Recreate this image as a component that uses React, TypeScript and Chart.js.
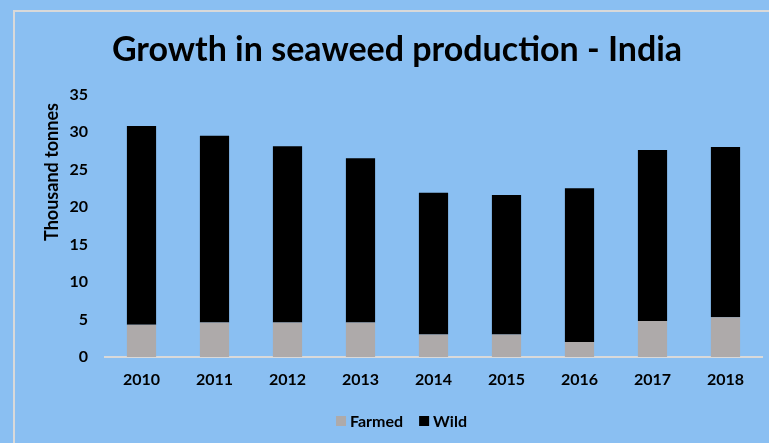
import React, { useEffect, useRef } from 'react';
import { Chart, registerables } from 'chart.js';

Chart.register(...registerables);

const years = ['2010', '2011', '2012', '2013', '2014', '2015', '2016', '2017', '2018'];
const farmed = [4.3, 4.6, 4.6, 4.6, 3.0, 3.0, 2.0, 4.8, 5.3];
const wild = [26.5, 24.9, 23.5, 21.9, 18.9, 18.6, 20.5, 22.8, 22.7];
const yMin = 0;
const yMax = 35;
const yStep = 5;
const chartTitle = 'Growth in seaweed production - India';
const yAxisTitle = 'Thousand tonnes';
const seriesNames = ['Farmed', 'Wild'];
const seriesColors = ['#aeaaaa', '#000000'];

const FONT = 'Lato, "Open Sans", "Noto Sans", sans-serif';
const BG = '#8abff2';

const overlayPlugin = {
  id: 'overlay',
  afterDraw(chart: any) {
    const { ctx, chartArea } = chart;
    // y-axis title
    ctx.save();
    ctx.font = `bold 18px ${FONT}`;
    ctx.fillStyle = '#000';
    ctx.translate(chartArea.left - 52.5, chartArea.top + 77.5);
    ctx.rotate(-Math.PI / 2);
    ctx.textAlign = 'center';
    ctx.textBaseline = 'middle';
    ctx.fillText(yAxisTitle, 0, 0);
    ctx.restore();

    // legend
    ctx.save();
    ctx.font = `bold 16px ${FONT}`;
    ctx.textBaseline = 'middle';
    ctx.textAlign = 'left';
    const cy = chartArea.bottom + 64;
    const box = 10;
    const gap = 4;
    const itemGap = 16;
    const items = chart.data.datasets.map((d: any) => ({
      label: d.label as string,
      color: d.backgroundColor as string,
      w: ctx.measureText(d.label).width,
    }));
    const total = items.reduce((s: number, it: any) => s + box + gap + it.w, 0) + itemGap * (items.length - 1);
    let x = 401.5 - total / 2;
    for (const it of items) {
      ctx.fillStyle = it.color;
      ctx.fillRect(x, cy - box / 2, box, box);
      ctx.fillStyle = '#000';
      ctx.fillText(it.label, x + box + gap, cy + 1);
      x += box + gap + it.w + itemGap;
    }
    ctx.restore();
  },
};

export default function App() {
  const ref = useRef<HTMLCanvasElement | null>(null);

  useEffect(() => {
    if (!ref.current) return;
    const chart = new Chart(ref.current, {
      type: 'bar',
      data: {
        labels: years,
        datasets: [
          {
            label: seriesNames[0],
            data: farmed,
            backgroundColor: seriesColors[0],
            categoryPercentage: 0.8,
            barPercentage: 0.5,
          },
          {
            label: seriesNames[1],
            data: wild,
            backgroundColor: seriesColors[1],
            categoryPercentage: 0.8,
            barPercentage: 0.5,
          },
        ],
      },
      options: {
        responsive: false,
        animation: false,
        layout: { padding: { top: 30, left: 32, right: 7, bottom: 0 } },
        plugins: {
          legend: { display: false },
          tooltip: { enabled: false },
          title: {
            display: true,
            text: chartTitle,
            color: '#000',
            font: { family: FONT, size: 34, weight: 'bold' },
            padding: { top: 0, bottom: 23.7 },
          },
        },
        scales: {
          x: {
            stacked: true,
            grid: { display: false, drawTicks: false },
            border: { display: true, color: '#d9d9d9', width: 2 },
            ticks: {
              color: '#000',
              padding: 13,
              font: { family: FONT, size: 16, weight: 'bold' },
            },
            afterFit(scale: any) {
              scale.height = 86;
            },
          },
          y: {
            stacked: true,
            min: yMin,
            max: yMax,
            grid: { display: false, drawTicks: false },
            border: { display: false },
            ticks: {
              stepSize: yStep,
              color: '#000',
              padding: 17,
              font: { family: FONT, size: 16, weight: 'bold' },
            },
            afterFit(scale: any) {
              scale.width = 73;
            },
          },
        },
      },
      plugins: [overlayPlugin],
    });
    return () => chart.destroy();
  }, []);

  return (
    <div
      style={{
        position: 'fixed',
        left: 0,
        top: 0,
        width: 769,
        height: 443,
        background: BG,
        overflow: 'hidden',
      }}
    >
      <div
        style={{
          position: 'absolute',
          left: 13,
          top: 10,
          width: 1000,
          height: 1000,
          border: '2px solid #d9d9d9',
        }}
      />
      <canvas
        ref={ref}
        width={769}
        height={443}
        style={{ position: 'absolute', left: 0, top: 0, width: 769, height: 443 }}
      />
    </div>
  );
}
